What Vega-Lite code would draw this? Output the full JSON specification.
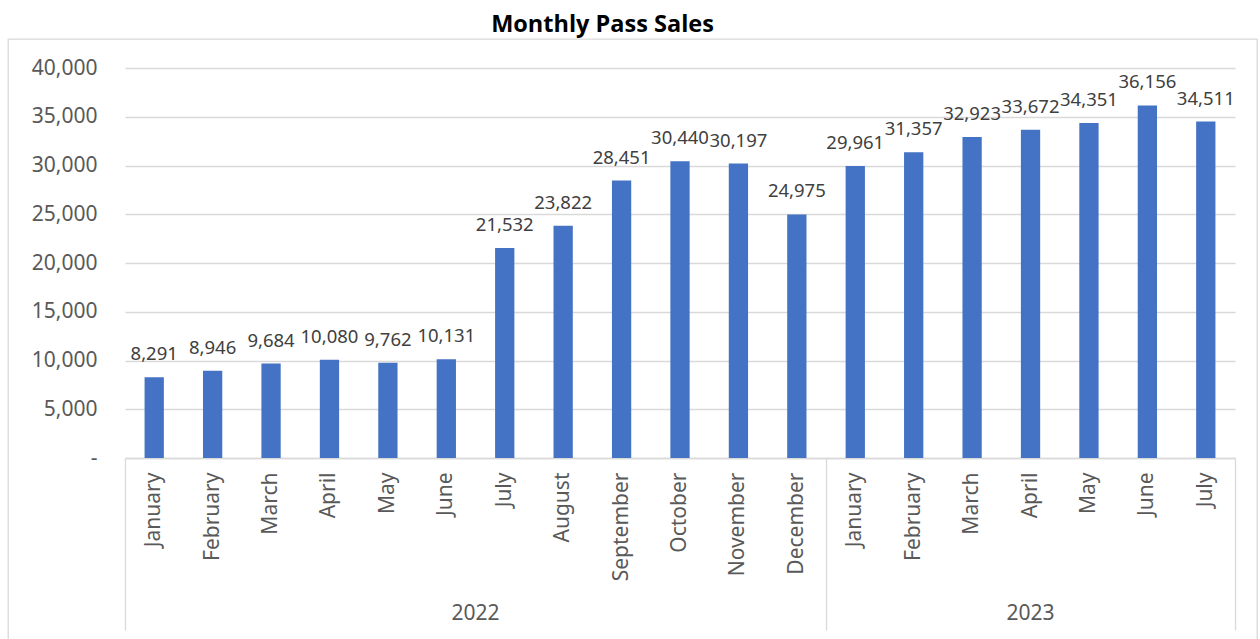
{
  "$schema": "https://vega.github.io/schema/vega-lite/v6.json",
  "width": 1249,
  "height": 604,
  "autosize": {"type": "none"},
  "padding": {"left": 8, "top": 39, "right": 3, "bottom": 0},
  "background": "white",
  "config": {"view": {"stroke": "#d9d9d9", "strokeWidth": 1.3}, "font": "Noto Sans"},
  "title": {"text": "Monthly Pass Sales", "font": "Open Sans", "fontSize": 23.5, "fontWeight": "bold", "color": "#000000", "anchor": "middle", "offset": 3, "dx": -30},
  "data": {"values": [
    {"year": 2022, "month": "January", "key": "2022-01", "sales": 8291},
    {"year": 2022, "month": "February", "key": "2022-02", "sales": 8946},
    {"year": 2022, "month": "March", "key": "2022-03", "sales": 9684},
    {"year": 2022, "month": "April", "key": "2022-04", "sales": 10080},
    {"year": 2022, "month": "May", "key": "2022-05", "sales": 9762},
    {"year": 2022, "month": "June", "key": "2022-06", "sales": 10131},
    {"year": 2022, "month": "July", "key": "2022-07", "sales": 21532},
    {"year": 2022, "month": "August", "key": "2022-08", "sales": 23822},
    {"year": 2022, "month": "September", "key": "2022-09", "sales": 28451},
    {"year": 2022, "month": "October", "key": "2022-10", "sales": 30440},
    {"year": 2022, "month": "November", "key": "2022-11", "sales": 30197},
    {"year": 2022, "month": "December", "key": "2022-12", "sales": 24975},
    {"year": 2023, "month": "January", "key": "2023-01", "sales": 29961},
    {"year": 2023, "month": "February", "key": "2023-02", "sales": 31357},
    {"year": 2023, "month": "March", "key": "2023-03", "sales": 32923},
    {"year": 2023, "month": "April", "key": "2023-04", "sales": 33672},
    {"year": 2023, "month": "May", "key": "2023-05", "sales": 34351},
    {"year": 2023, "month": "June", "key": "2023-06", "sales": 36156},
    {"year": 2023, "month": "July", "key": "2023-07", "sales": 34511}
  ]},
  "layer": [
    {
      "transform": [{"filter": "datum.year == 2022"}],
      "mark": {"type": "bar", "color": "#4472C4", "width": {"band": 0.33}},
      "encoding": {
        "x": {"field": "key", "type": "nominal", "scale": {"range": [117, 1227], "paddingInner": 0, "paddingOuter": 0},
          "axis": {"title": null, "orient": "bottom", "offset": -185, "bandPosition": 0.5, "ticks": false, "domain": true, "domainColor": "#d9d9d9", "domainWidth": 1.3, "grid": false,
            "labelAngle": -90, "labelAlign": "right", "labelBaseline": "middle", "labelPadding": 14, "labelFont": "Noto Sans", "labelFontSize": 21, "labelColor": "#595959", "labelOverlap": false, "labelBound": false,
            "labelExpr": "['January','February','March','April','May','June','July','August','September','October','November','December'][toNumber(slice(datum.value, 5)) - 1]"}},
        "y": {"field": "sales", "type": "quantitative", "scale": {"domain": [0, 40000], "range": [419, 29], "nice": false, "zero": true},
          "axis": {"title": null, "orient": "left", "offset": -89, "values": [0, 5000, 10000, 15000, 20000, 25000, 30000, 35000, 40000], "ticks": false, "domain": false, "grid": true, "gridColor": "#d9d9d9", "gridWidth": 1.3,
            "labelPadding": 0, "labelFont": "Noto Sans", "labelFontSize": 21, "labelColor": "#595959", "labelBaseline": "middle", "labelAlign": "right",
            "labelExpr": "datum.value == 0 ? '-\u2002' : format(datum.value, ',')"}}
      }
    },
    {
      "transform": [{"filter": "datum.year == 2023"}],
      "mark": {"type": "bar", "color": "#4472C4", "width": {"band": 0.33}},
      "encoding": {
        "x": {"field": "key", "type": "nominal", "scale": {"range": [117, 1227], "paddingInner": 0, "paddingOuter": 0},
          "axis": {"title": null, "orient": "bottom", "offset": -185, "bandPosition": 1, "values": ["2023-07"], "ticks": true, "tickSize": 172, "tickColor": "#d9d9d9", "tickWidth": 1.3, "labels": false, "domain": false, "grid": false}},
        "y": {"field": "sales", "type": "quantitative", "scale": {"domain": [0, 40000], "range": [419, 29], "nice": false}, "axis": null}
      }
    },
    {
      "transform": [{"filter": "datum.year == 2022"}],
      "mark": {"type": "text", "baseline": "alphabetic", "dy": -17, "font": "Noto Sans", "fontSize": 18.5, "color": "#404040"},
      "encoding": {
        "x": {"field": "key", "type": "nominal", "scale": {"range": [117, 1227], "paddingInner": 0, "paddingOuter": 0},
          "axis": {"title": null, "orient": "bottom", "offset": -185, "bandPosition": 0, "values": ["2022-01", "2022-07", "2023-01"], "ticks": true, "tickSize": 172, "tickColor": "#d9d9d9", "tickWidth": 1.3,
            "tickOpacity": {"condition": {"test": "datum.value == '2022-07'", "value": 0}, "value": 1},
            "domain": false, "grid": false, "labelAngle": 0, "labelAlign": "center", "labelBaseline": "middle", "labelPadding": -17, "labelOffset": -29.2, "labelFont": "Noto Sans", "labelFontSize": 21, "labelColor": "#595959",
            "labelExpr": "datum.value == '2022-07' ? '2022' : ''"}},
        "y": {"field": "sales", "type": "quantitative", "scale": {"domain": [0, 40000], "range": [419, 29], "nice": false}, "axis": null},
        "text": {"field": "sales", "type": "quantitative", "format": ","}
      }
    },
    {
      "transform": [{"filter": "datum.year == 2023"}],
      "mark": {"type": "text", "baseline": "alphabetic", "dy": -17, "font": "Noto Sans", "fontSize": 18.5, "color": "#404040"},
      "encoding": {
        "x": {"field": "key", "type": "nominal", "scale": {"range": [117, 1227], "paddingInner": 0, "paddingOuter": 0},
          "axis": {"title": null, "orient": "bottom", "offset": -185, "bandPosition": 0.5, "values": ["2023-04"], "ticks": false, "domain": false, "grid": false,
            "labelAngle": 0, "labelAlign": "center", "labelBaseline": "middle", "labelPadding": 155, "labelFont": "Noto Sans", "labelFontSize": 21, "labelColor": "#595959",
            "labelExpr": "'2023'"}},
        "y": {"field": "sales", "type": "quantitative", "scale": {"domain": [0, 40000], "range": [419, 29], "nice": false}, "axis": null},
        "text": {"field": "sales", "type": "quantitative", "format": ","}
      }
    }
  ],
  "resolve": {"axis": {"x": "independent", "y": "independent"}}
}
